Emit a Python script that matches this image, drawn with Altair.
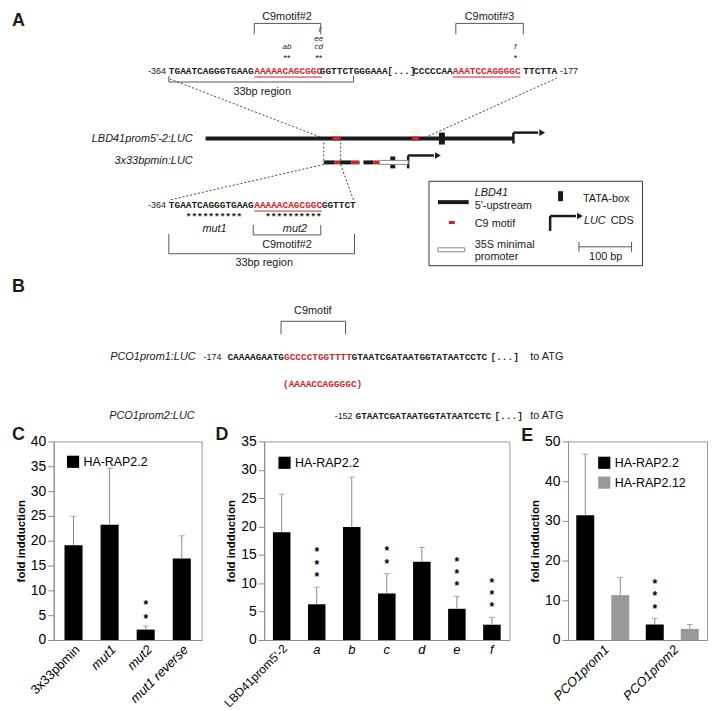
import altair as alt
import pandas as pd

FONT = "Liberation Sans"
MONO = "Liberation Mono"
K = "#1a1a1a"
R = "#d2232a"
G = "#555555"
ERR = "#8a8a8a"
AX = "#8c8c8c"

# ---------------- bar chart values ----------------
c_cats = ["3x33pbmin", "mut1", "mut2", "mut1 reverse"]
c_vals = [19.1, 23.2, 2.1, 16.4]
c_err = [5.8, 11.4, 0.7, 4.6]
c_stars = [0, 0, 2, 0]

d_cats = ["LBD41prom5'-2", "a", "b", "c", "d", "e", "f"]
d_vals = [19.0, 6.3, 19.9, 8.2, 13.8, 5.5, 2.7]
d_err = [6.7, 3.0, 8.8, 3.5, 2.5, 2.2, 1.3]
d_stars = [0, 3, 0, 2, 0, 3, 3]

e_series_order = ["HA-RAP2.2", "HA-RAP2.12"]
e_groups = ["PCO1prom1", "PCO1prom1", "PCO1prom2", "PCO1prom2"]
e_series = ["HA-RAP2.2", "HA-RAP2.12", "HA-RAP2.2", "HA-RAP2.12"]
e_vals = [31.4, 11.3, 3.9, 2.8]
e_err = [15.4, 4.5, 1.5, 1.1]
e_stars = [0, 0, 3, 0]

# ---------------- schematic (panels A and B) ----------------
# texts: text, x, y, size, kind (N normal, I italic, B bold), align, colour
TXT = [
    ("A", 8, 17, 18, "B", "left", K),
    ("B", 8, 285, 18, "B", "left", K),
    ("C", 8, 434, 18, "B", "left", K),
    ("D", 213, 434, 18, "B", "left", K),
    ("E", 521, 435, 18, "B", "left", K),
    ("C9motif#2", 285, 13, 11, "N", "center", K),
    ("C9motif#3", 489, 13, 11, "N", "center", K),
    ("f", 318, 26, 8, "I", "center", K),
    ("ee", 317, 34.5, 8, "I", "center", K),
    ("cd", 317, 43, 8, "I", "center", K),
    ("ab", 285, 43, 8, "I", "center", K),
    ("**", 285, 53.5, 9, "N", "center", K),
    ("**", 317, 53.5, 9, "N", "center", K),
    ("f", 515, 43, 8, "I", "center", K),
    ("*", 515, 53.5, 9, "N", "center", K),
    ("-364", 163, 67, 9, "N", "right", K),
    ("-177", 560, 67, 9, "N", "left", K),
    ("33bp region", 260, 88, 11, "N", "center", K),
    ("LBD41prom5'-2:LUC", 190, 135, 11, "I", "right", K),
    ("3x33bpmin:LUC", 190, 158, 11, "I", "right", K),
    ("-364", 163, 202, 9, "N", "right", K),
    ("mut1", 212, 226, 11, "I", "center", K),
    ("mut2", 293, 226, 11, "I", "center", K),
    ("C9motif#2", 285, 242, 11, "N", "center", K),
    ("33bp region", 262, 260, 11, "N", "center", K),
    ("LBD41", 474, 190, 11, "I", "left", K),
    ("5'-upstream", 474, 203, 11, "N", "left", K),
    ("TATA-box", 583, 196, 11, "N", "left", K),
    ("C9 motif", 474, 221, 11, "N", "left", K),
    ("LUC", 584, 218, 11, "I", "left", K),
    ("CDS", 611, 218, 11, "N", "left", K),
    ("35S minimal", 474, 242, 11, "N", "left", K),
    ("promoter", 474, 254, 11, "N", "left", K),
    ("100 bp", 606, 254, 11, "N", "center", K),
    ("C9motif", 311, 309, 11, "N", "center", K),
    ("PCO1prom1:LUC", 193, 355, 11, "I", "right", K),
    ("-174", 219, 355, 9, "N", "right", K),
    ("to ATG", 530, 355, 11, "N", "left", K),
    ("PCO1prom2:LUC", 192, 414, 11, "I", "right", K),
    ("-152", 351, 414, 9, "N", "right", K),
    ("to ATG", 530, 414, 11, "N", "left", K),
]
SEQ = [
    ("TGAATCAGGGTGAAG", 166, 67, K), ("AAAAACAGCGGC", 252, 67, R),
    ("GGTTCTGGGAAA", 318, 67, K), ("[...]", 386, 67, K), ("CCCCCAA", 412, 67, K),
    ("AAATCCAGGGGC", 452, 67, R), ("TTCTTA", 523, 67, K),
    ("TGAATCAGGGTGAAG", 166, 202, K), ("AAAAACAGCGGC", 252, 202, R), ("GGTTCT", 320, 202, K),
    ("**********", 183, 214, K), ("**********", 263, 214, K),
    ("CAAAAGAATG", 225, 355, K), ("GCCCCTGGTTTT", 282, 355, R),
    ("GTAATCGATAATGGTATAATCCTC", 350, 355, K), ("[...]", 490, 355, K),
    ("(AAAACCAGGGGC)", 281, 382, R),
    ("GTAATCGATAATGGTATAATCCTC", 354, 414, K), ("[...]", 494, 414, K),
]
LINES = [
    (252, 19, 319, 19, 1, G), (252, 19, 252, 30, 1, G), (319, 19, 319, 30, 1, G),
    (455, 19, 523, 19, 1, G), (455, 19, 455, 30, 1, G), (523, 19, 523, 30, 1, G),
    (166, 78, 352, 78, 1, G), (166, 72, 166, 78, 1, G), (352, 72, 352, 78, 1, G),
    (251, 232, 319, 232, 1, G), (251, 222, 251, 232, 1, G), (319, 222, 319, 232, 1, G),
    (166, 251, 353, 251, 1, G), (166, 231, 166, 251, 1, G), (353, 231, 353, 251, 1, G),
    (279, 319, 344, 319, 1, G), (279, 319, 279, 332, 1, G), (344, 319, 344, 332, 1, G),
    (252, 73, 320, 73, 1, R), (452, 73, 520, 73, 1, R), (252, 208, 320, 208, 1, R),
    (203, 135, 513, 135, 4, K), (331, 135, 339, 135, 4, R), (411, 135, 418, 135, 4, R),
    (513, 140, 513, 129, 2.5, K), (513, 129, 538, 129, 2.5, K),
    (322, 159, 333, 159, 4, K), (333, 159, 338, 159, 4, R), (338, 159, 350, 159, 4, K),
    (350, 159, 357, 159, 4, R), (357, 159, 358, 159, 4, K),
    (362, 159, 372, 159, 4, K), (372, 159, 377, 159, 4, R), (377, 159, 378, 159, 4, K),
    (407, 165, 407, 152, 2.5, K), (407, 152, 433, 152, 2.5, K),
    (437, 199, 468, 199, 4, K), (448, 219.5, 454, 219.5, 3, R),
    (550, 228, 550, 213, 2.5, K), (550, 213, 576, 213, 2.5, K),
    (579, 244, 632, 244, 1, G), (579, 239, 579, 249, 1, G), (632, 239, 632, 249, 1, G),
]
DOTS = [
    (167, 75, 320, 134), (557, 74, 424, 134), (322, 135, 322, 158), (339, 135, 339, 158),
    (322, 161, 166, 197), (339, 161, 352, 197),
]
SOLID_RECTS = [(438, 129, 444, 141, K), (389, 153, 394, 165, K), (558, 188, 563, 198, K)]
HOLLOW_RECTS = [(378, 157, 407, 161), (437, 245, 464, 249)]
BOX = [(428, 178, 643, 263)]
HEADS = [(542, 129), (437, 152), (580, 213)]

XS = alt.Scale(domain=[8, 709], nice=False, zero=False)
YS = alt.Scale(domain=[8, 440], nice=False, zero=False, reverse=True)


def px(f="x"):
    return alt.X(f"{f}:Q", scale=XS, axis=None)


def py(f="y"):
    return alt.Y(f"{f}:Q", scale=YS, axis=None)


layers = []
txt_df = pd.DataFrame(TXT, columns=["t", "x", "y", "s", "k", "a", "c"])
for (k, a), sub in txt_df.groupby(["k", "a"]):
    layers.append(
        alt.Chart(sub.reset_index(drop=True)).mark_text(
            font=FONT, fontWeight="bold" if k == "B" else "normal",
            fontStyle="italic" if k == "I" else "normal", align=a, baseline="middle"
        ).encode(x=px(), y=py(), text="t:N", size=alt.Size("s:Q", scale=None),
                 color=alt.Color("c:N", scale=None))
    )
seq_df = pd.DataFrame(SEQ, columns=["t", "x", "y", "c"])
layers.append(
    alt.Chart(seq_df).mark_text(font=MONO, fontWeight="bold", fontSize=9.5, align="left",
                                baseline="middle")
    .encode(x=px(), y=py(), text="t:N", color=alt.Color("c:N", scale=None))
)
line_df = pd.DataFrame(LINES, columns=["x", "y", "x2", "y2", "w", "c"])
layers.append(
    alt.Chart(line_df).mark_rule().encode(
        x=px(), y=py(), x2="x2:Q", y2="y2:Q",
        strokeWidth=alt.StrokeWidth("w:Q", scale=None), color=alt.Color("c:N", scale=None))
)
dot_df = pd.DataFrame(DOTS, columns=["x", "y", "x2", "y2"])
layers.append(
    alt.Chart(dot_df).mark_rule(strokeDash=[2, 2], strokeWidth=1, color="#444444")
    .encode(x=px(), y=py(), x2="x2:Q", y2="y2:Q")
)
sr_df = pd.DataFrame(SOLID_RECTS, columns=["x", "y", "x2", "y2", "c"])
layers.append(
    alt.Chart(sr_df).mark_rect().encode(x=px(), y=py(), x2="x2:Q", y2="y2:Q",
                                        color=alt.Color("c:N", scale=None))
)
hr_df = pd.DataFrame(HOLLOW_RECTS, columns=["x", "y", "x2", "y2"])
layers.append(
    alt.Chart(hr_df).mark_rect(fill="white", stroke="#8a8a8a", strokeWidth=1)
    .encode(x=px(), y=py(), x2="x2:Q", y2="y2:Q")
)
box_df = pd.DataFrame(BOX, columns=["x", "y", "x2", "y2"])
layers.append(
    alt.Chart(box_df).mark_rect(fillOpacity=0, stroke="#333333", strokeWidth=1)
    .encode(x=px(), y=py(), x2="x2:Q", y2="y2:Q")
)
head_df = pd.DataFrame(HEADS, columns=["x", "y"])
layers.append(
    alt.Chart(head_df).mark_point(shape="triangle-right", filled=True, size=45, color=K, opacity=1)
    .encode(x=px(), y=py())
)
diagram = alt.layer(*layers).properties(width=701, height=432)


# ---------------- bar charts ----------------
def y_axis(step, top):
    return alt.Axis(values=list(range(0, top + 1, step)), title="fold indduction",
                    titleFontWeight="bold", titleFontSize=11.5, titleColor="black",
                    titlePadding=4, labelFontSize=14, labelColor="black", labelPadding=2,
                    tickSize=6, tickColor=AX, domainColor=AX, grid=False)


def legend(lx, ly):
    return alt.Legend(orient="none", legendX=lx, legendY=ly, title=None, symbolType="square",
                      symbolSize=150, symbolStrokeWidth=0, labelFontSize=12.5, labelColor="black",
                      labelOffset=4, rowPadding=7)


VIEW = alt.ViewBackground(stroke="#9a9a9a", strokeWidth=1)


def star_df(df, counts, keys):
    rows = []
    for i, n in enumerate(counts):
        for lvl in range(n):
            r = {k: df.loc[i, k] for k in keys}
            r["level"] = lvl
            rows.append(r)
    return pd.DataFrame(rows)


def star_layers(sdf, enc, gap, base_dy):
    out = []
    for lvl in range(3):
        out.append(
            alt.Chart(sdf).transform_filter(f"datum.level == {lvl}")
            .mark_text(font=FONT, fontSize=12, fontWeight="bold", baseline="alphabetic",
                       dy=base_dy - gap * lvl, color="#000000")
            .encode(text=alt.value("*"), **enc)
        )
    return out


# C
c_tops = [v + e for v, e in zip(c_vals, c_err)]
dfc = pd.DataFrame({"cat": c_cats, "val": c_vals, "top": c_tops,
                    "ser": ["HA-RAP2.2"] * len(c_cats)})
xc = alt.X("cat:N", sort=c_cats, scale=alt.Scale(paddingInner=0.5, paddingOuter=0.3),
           axis=alt.Axis(title=None, labelAngle=-45, labelFontSize=13, labelColor="black",
                         labelFontStyle={"condition": {"test": "datum.value == '3x33pbmin'",
                                                       "value": "normal"}, "value": "italic"},
                         tickSize=0, labelPadding=3, domainColor=AX))
ysc = alt.Scale(domain=[0, 40], nice=False)
yac = y_axis(5, 40)
ytc = alt.Y("top:Q", scale=ysc, axis=yac)
bc = alt.Chart(dfc)
chart_c = alt.layer(
    bc.mark_bar().encode(x=xc, y=alt.Y("val:Q", scale=ysc, axis=yac),
                         color=alt.Color("ser:N", scale=alt.Scale(domain=["HA-RAP2.2"], range=["#000000"]),
                                         legend=legend(13, 14))),
    bc.mark_rule(color=ERR).encode(x=xc, y=ytc, y2="val:Q"),
    bc.mark_tick(color=ERR, thickness=1, size=6).encode(x=xc, y=ytc),
    *star_layers(star_df(dfc, c_stars, ["cat", "top"]), dict(x=xc, y=ytc), 14, -3),
).properties(width=149, height=200, view=VIEW)

# D
d_tops = [v + e for v, e in zip(d_vals, d_err)]
dfd = pd.DataFrame({"cat": d_cats, "val": d_vals, "top": d_tops,
                    "ser": ["HA-RAP2.2"] * len(d_cats)})
xd = alt.X("cat:N", sort=d_cats, scale=alt.Scale(paddingInner=0.5, paddingOuter=0.25),
           axis=alt.Axis(title=None, labelAngle=0, labelFontSize=13, labelFontStyle="italic",
                         labelColor="black",
                         labelExpr="indexof(datum.label, 'LBD') >= 0 ? '' : datum.label",
                         tickSize=0, labelPadding=4, domainColor=AX))
ysd = alt.Scale(domain=[0, 35], nice=False)
yad = y_axis(5, 35)
ytd = alt.Y("top:Q", scale=ysd, axis=yad)
bd = alt.Chart(dfd)
first_d = alt.Chart(dfd.head(1))
chart_d = alt.layer(
    bd.mark_bar().encode(x=xd, y=alt.Y("val:Q", scale=ysd, axis=yad),
                         color=alt.Color("ser:N", scale=alt.Scale(domain=["HA-RAP2.2"], range=["#000000"]),
                                         legend=legend(14, 15))),
    bd.mark_rule(color=ERR).encode(x=xd, y=ytd, y2="val:Q"),
    bd.mark_tick(color=ERR, thickness=1, size=6).encode(x=xd, y=ytd),
    *star_layers(star_df(dfd, d_stars, ["cat", "top"]), dict(x=xd, y=ytd), 12.5, -6),
    first_d.mark_text(angle=315, align="right", baseline="top", fontSize=12, font=FONT, color="black")
    .encode(x=xd, y=alt.value(203), text="cat:N"),
).properties(width=247, height=200, view=VIEW)

# E
e_tops = [v + e for v, e in zip(e_vals, e_err)]
dfe = pd.DataFrame({"grp": e_groups, "ser": e_series, "val": e_vals, "top": e_tops})
xe = alt.X("grp:N", scale=alt.Scale(paddingInner=0, paddingOuter=0),
           axis=alt.Axis(title=None, labelAngle=-45, labelFontSize=13, labelFontStyle="italic",
                         labelColor="black", tickSize=0, labelPadding=3, domainColor=AX))
oe = alt.XOffset("ser:N", sort=e_series_order, scale=alt.Scale(paddingInner=0.486, paddingOuter=0.236))
yse = alt.Scale(domain=[0, 50], nice=False)
yae = y_axis(10, 50)
yte = alt.Y("top:Q", scale=yse, axis=yae)
be = alt.Chart(dfe)
chart_e = alt.layer(
    be.mark_bar().encode(x=xe, xOffset=oe, y=alt.Y("val:Q", scale=yse, axis=yae),
                         color=alt.Color("ser:N", sort=e_series_order,
                                         scale=alt.Scale(domain=e_series_order, range=["#000000", "#999999"]),
                                         legend=legend(30, 15))),
    be.mark_rule(color=ERR).encode(x=xe, xOffset=oe, y=yte, y2="val:Q"),
    be.mark_tick(color=ERR, thickness=1, size=6).encode(x=xe, xOffset=oe, y=yte),
    *star_layers(star_df(dfe, e_stars, ["grp", "ser", "top"]), dict(x=xe, xOffset=oe, y=yte), 12.5, -6),
).properties(width=140, height=200, view=VIEW)


def spacer(w):
    return alt.Chart(pd.DataFrame({"v": [0]})).mark_point(opacity=0).encode(
        x=alt.value(0), y=alt.value(0)).properties(width=w, height=200)


row = alt.hconcat(spacer(42), chart_c, spacer(63), chart_d, spacer(59), chart_e,
                  spacing=0, bounds="flush").resolve_scale(color="independent", x="independent", y="independent")

chart = (
    alt.vconcat(diagram, row, spacing=0, bounds="flush")
    .properties(padding=0)
    .configure_view(stroke="transparent")
    .configure_axis(labelFont=FONT, titleFont=FONT)
    .configure_legend(labelFont=FONT)
)

chart.save("out.html", embed_options={"renderer": "svg", "actions": False})
